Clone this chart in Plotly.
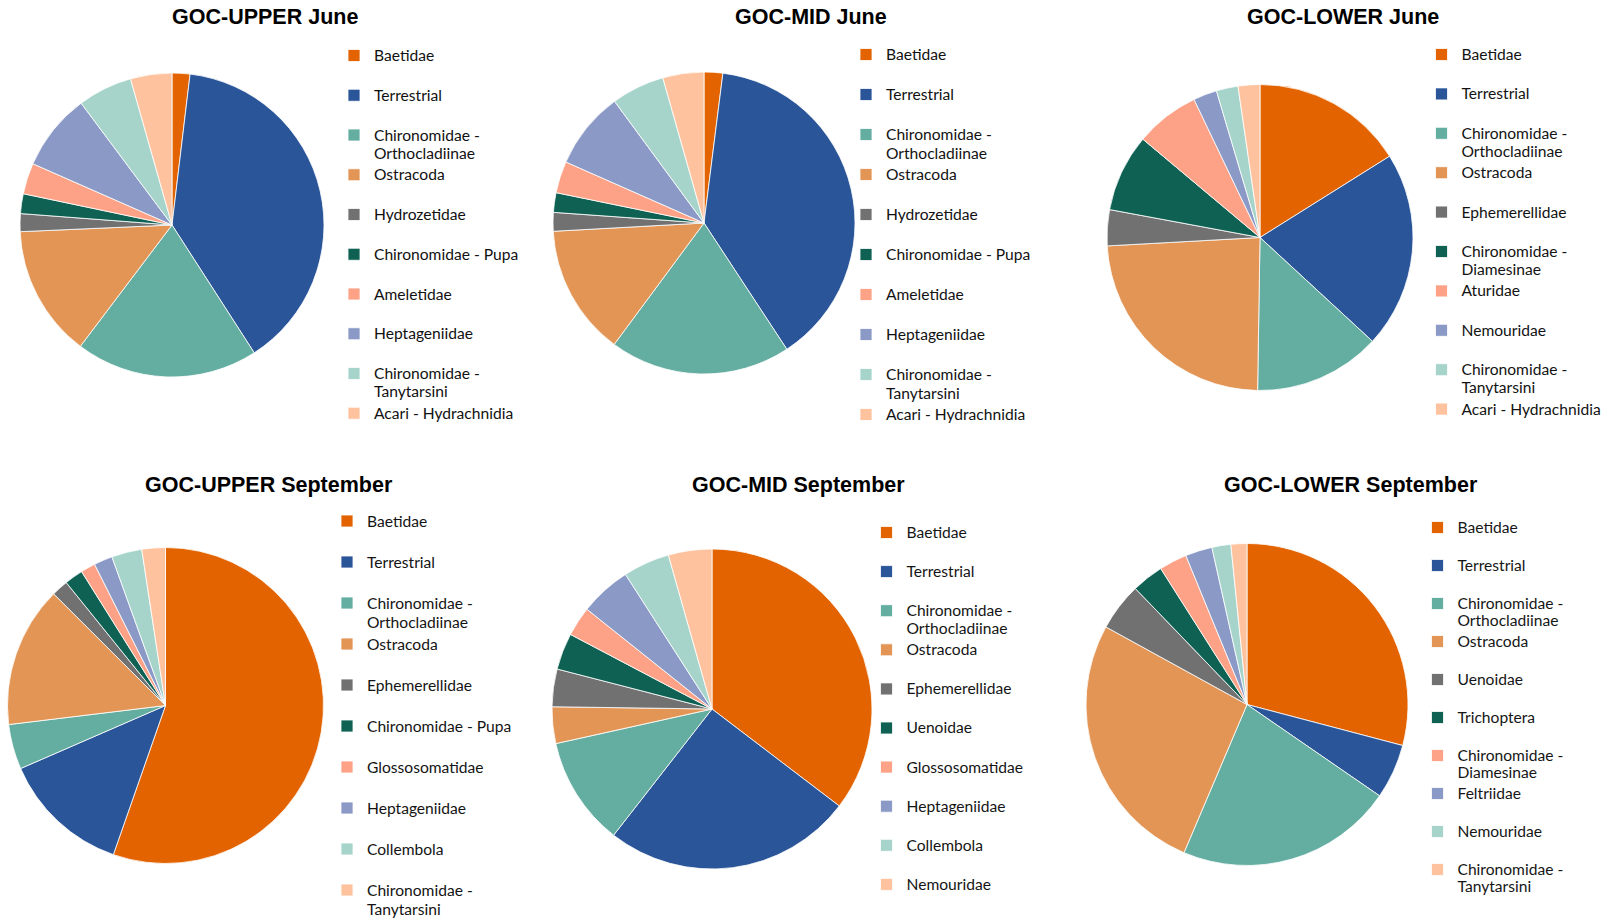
import plotly.graph_objects as go

# slice colours, same order in every pie
colors = ["#E26300", "#2A5599", "#64ADA1", "#E29555", "#717171",
          "#0F6253", "#FDA286", "#8A99C5", "#A6D4CB", "#FEC39E"]

upper_june_labels = ["Baetidae", "Terrestrial", "Chironomidae -<br>Orthocladiinae", "Ostracoda",
                     "Hydrozetidae", "Chironomidae - Pupa", "Ameletidae", "Heptageniidae",
                     "Chironomidae -<br>Tanytarsini", "Acari - Hydrachnidia"]
upper_june_values = [1.9, 39.0, 19.4, 14.0, 1.9, 2.1, 3.3, 8.2, 5.8, 4.4]

mid_june_labels = ["Baetidae", "Terrestrial", "Chironomidae -<br>Orthocladiinae", "Ostracoda",
                   "Hydrozetidae", "Chironomidae - Pupa", "Ameletidae", "Heptageniidae",
                   "Chironomidae -<br>Tanytarsini", "Acari - Hydrachnidia"]
mid_june_values = [2.0, 38.8, 19.4, 14.0, 2.0, 2.1, 3.4, 8.3, 5.7, 4.4]

lower_june_labels = ["Baetidae", "Terrestrial", "Chironomidae -<br>Orthocladiinae", "Ostracoda",
                     "Ephemerellidae", "Chironomidae -<br>Diamesinae", "Aturidae", "Nemouridae",
                     "Chironomidae -<br>Tanytarsini", "Acari - Hydrachnidia"]
lower_june_values = [16.1, 20.8, 13.4, 23.9, 3.8, 8.2, 6.8, 2.5, 2.3, 2.3]

upper_sep_labels = ["Baetidae", "Terrestrial", "Chironomidae -<br>Orthocladiinae", "Ostracoda",
                    "Ephemerellidae", "Chironomidae - Pupa", "Glossosomatidae", "Heptageniidae",
                    "Collembola", "Chironomidae -<br>Tanytarsini"]
upper_sep_values = [55.3, 13.1, 4.6, 14.4, 1.7, 1.9, 1.5, 1.9, 3.1, 2.4]

mid_sep_labels = ["Baetidae", "Terrestrial", "Chironomidae -<br>Orthocladiinae", "Ostracoda",
                  "Ephemerellidae", "Uenoidae", "Glossosomatidae", "Heptageniidae",
                  "Collembola", "Nemouridae"]
mid_sep_values = [35.4, 25.2, 11.0, 3.7, 3.8, 3.7, 3.0, 5.2, 4.7, 4.4]

lower_sep_labels = ["Baetidae", "Terrestrial", "Chironomidae -<br>Orthocladiinae", "Ostracoda",
                    "Uenoidae", "Trichoptera", "Chironomidae -<br>Diamesinae", "Feltriidae",
                    "Nemouridae", "Chironomidae -<br>Tanytarsini"]
lower_sep_values = [29.1, 5.5, 21.8, 26.6, 4.8, 3.2, 2.8, 2.7, 1.9, 1.6]

titles = ["GOC-UPPER June", "GOC-MID June", "GOC-LOWER June",
          "GOC-UPPER September", "GOC-MID September", "GOC-LOWER September"]

W, H = 1612, 922

# pixel layout: pie centre / radius, title centre, legend text left + first row centre + row pitch
pies = [
    dict(lab=upper_june_labels, val=upper_june_values, cx=172, cy=225, r=152,
         tx=265, ty=17.5, lx=372, ly=55.5, gap=39.75),
    dict(lab=mid_june_labels, val=mid_june_values, cx=704, cy=223, r=151,
         tx=810.5, ty=17.5, lx=884, ly=54.5, gap=40.0),
    dict(lab=lower_june_labels, val=lower_june_values, cx=1260, cy=237.5, r=153,
         tx=1343, ty=17.5, lx=1459.5, ly=54.5, gap=39.4),
    dict(lab=upper_sep_labels, val=upper_sep_values, cx=165.5, cy=705.5, r=158,
         tx=269, ty=485, lx=365, ly=521, gap=41.0),
    dict(lab=mid_sep_labels, val=mid_sep_values, cx=712, cy=709, r=160,
         tx=798, ty=485, lx=904.5, ly=532.5, gap=39.1),
    dict(lab=lower_sep_labels, val=lower_sep_values, cx=1247, cy=704.5, r=161,
         tx=1351, ty=485, lx=1455.5, ly=527.5, gap=38.0),
]

# near-identical text shades: pies sharing a label must not share a legend entry
text_shades = ["#111111", "#121212", "#131313", "#141414", "#151515", "#161616"]

fig = go.Figure()
layout_extra = {}
annotations = []

for i, p in enumerate(pies):
    lname = "legend" if i == 0 else "legend%d" % (i + 1)
    fs = (p["gap"] - 3) / 2.6          # legend row = 2 text lines + 3px
    # every entry takes two lines so rows are evenly spaced
    names = []
    for l in p["lab"]:
        txt = l if "<br>" in l else l + "<br> "
        names.append("<span style='font-size:15.6px;color:%s'>%s</span>" % (text_shades[i], txt))
    fig.add_trace(go.Pie(
        labels=names, values=p["val"], sort=False, direction="clockwise", rotation=0,
        marker=dict(colors=colors, line=dict(color="white", width=0.8)),
        textinfo="none", hoverinfo="percent",
        domain=dict(x=[(p["cx"] - p["r"]) / W, (p["cx"] + p["r"]) / W],
                    y=[1 - (p["cy"] + p["r"]) / H, 1 - (p["cy"] - p["r"]) / H]),
        legend=lname,
    ))
    layout_extra[lname] = dict(
        x=(p["lx"] - 38) / W, y=1 - (p["ly"] - 6.5 - 0.65 * fs) / H,
        xanchor="left", yanchor="top",
        font=dict(family="Lato, Noto Sans, sans-serif", size=fs, color=text_shades[i]),
        valign="top", bgcolor="rgba(0,0,0,0)", borderwidth=0,
    )
    annotations.append(dict(
        text="<b>%s</b>" % titles[i], x=p["tx"] / W, y=1 - p["ty"] / H,
        xref="paper", yref="paper", xanchor="center", yanchor="middle", showarrow=False,
        font=dict(family="Liberation Sans, Arial, sans-serif", size=21.5, color="#000000"),
    ))

fig.update_layout(
    width=W, height=H,
    # legends reach the bottom edge; keep them from squeezing the pies
    margin=dict(l=0, r=0, t=0, b=0, autoexpand=False),
    paper_bgcolor="white", plot_bgcolor="white",
    annotations=annotations, **layout_extra,
)

fig.write_html("out.html", config={"displayModeBar": False},
               post_script="document.body.style.margin='0';")
